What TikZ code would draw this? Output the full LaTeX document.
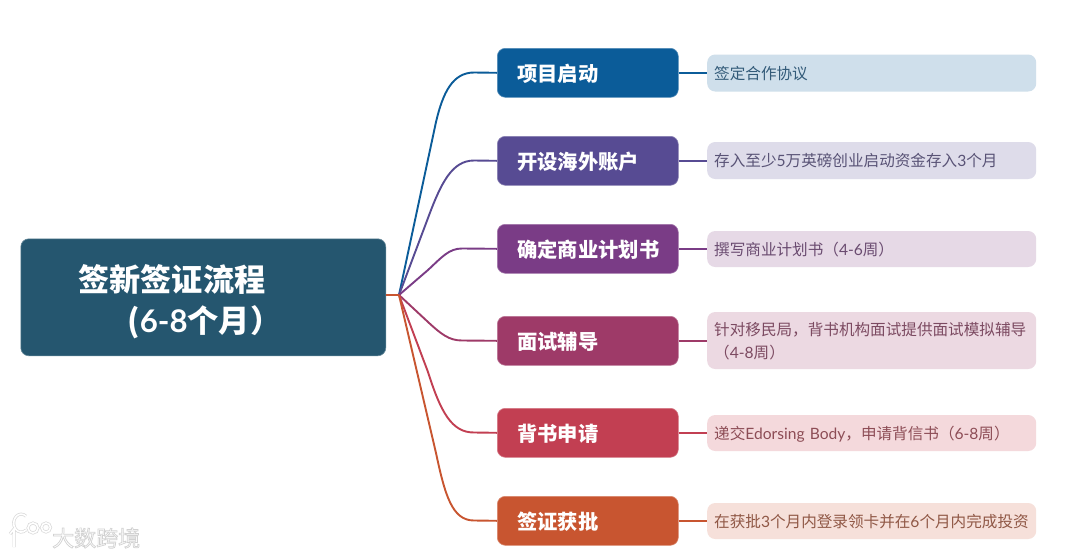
\documentclass[tikz,border=0pt]{standalone}
\usepackage{fontspec}
\setmainfont{Noto Sans CJK SC}
\newfontfamily\latinf{Lato}
\newcommand\dn[2]{\raisebox{-#1}[1em][.2em]{#2}}
\definecolor{croot}{HTML}{25566F}
\definecolor{ca}{HTML}{0B5C99}\definecolor{cb}{HTML}{574B93}\definecolor{cc}{HTML}{7A3C86}
\definecolor{cd}{HTML}{9E3A68}\definecolor{ce}{HTML}{C23F52}\definecolor{cf}{HTML}{C85530}
\definecolor{fa}{HTML}{CFDFEB}\definecolor{fb}{HTML}{DEDCEA}\definecolor{fc}{HTML}{E6D9E6}
\definecolor{fd}{HTML}{ECD9E2}\definecolor{fe}{HTML}{F4D9DC}\definecolor{ff}{HTML}{F6E0DA}
\tikzset{
  rootbox/.style={fill=croot,draw=croot!70!white,line width=.6pt,rounded corners=8pt,text=white,
    minimum height=117pt,text width=365pt,inner xsep=0pt,inner ysep=0pt,align=left,font=\fontsize{31.2}{41}\selectfont\bfseries},
  mainbox/.style={fill=#1,draw=#1!70!white,line width=.6pt,rounded corners=8pt,text=white,
    minimum height=49pt,text width=141pt,inner xsep=20pt,inner ysep=0pt,align=left,font=\fontsize{20.3}{24}\selectfont\bfseries},
  subbox/.style={fill=f#1,rounded corners=8pt,text=c#1!60!black!82!white,
    text width=315pt,inner xsep=7pt,inner ysep=0pt,align=left,font=\fontsize{15.6}{23}\selectfont},
  branch/.style={line width=1.9pt,color=#1,line join=round},
  wm/.style={font=\fontsize{22}{22}\selectfont,inner sep=0pt}
}
\begin{document}
\begin{tikzpicture}[x=1pt,y=-1pt]
\useasboundingbox (0,0) rectangle (1080,558);
\fill[white] (0,0) rectangle (1080,558);
\node[rootbox,anchor=north west] (root) at (20.5,238.5) {\hspace*{57.5pt}\dn{2pt}{签新签证流程}\\\hspace*{106.5pt}\dn{2pt}{({\latinf 6-8}个月）}};
\coordinate (hub) at (399,295);
\node[mainbox=ca,anchor=north west] (m1) at (497,48)  {\dn{1pt}{项目启动}};
\node[mainbox=cb,anchor=north west] (m2) at (497,136) {\dn{1pt}{开设海外账户}};
\node[mainbox=cc,anchor=north west] (m3) at (497,224) {\dn{1pt}{确定商业计划书}};
\node[mainbox=cd,anchor=north west] (m4) at (497,316) {\dn{1pt}{面试辅导}};
\node[mainbox=ce,anchor=north west] (m5) at (497,408) {\dn{1pt}{背书申请}};
\node[mainbox=cf,anchor=north west] (m6) at (497,496) {\dn{1pt}{签证获批}};
\node[subbox=a,minimum height=37pt,anchor=west] (s1) at (707,73)    {\dn{0pt}{签定合作协议}};
\node[subbox=b,minimum height=37pt,anchor=west] (s2) at (707,160.5) {\dn{0pt}{存入至少{\latinf 5}万英磅创业启动资金存入{\latinf 3}个月}};
\node[subbox=c,minimum height=36pt,anchor=west] (s3) at (707,249)   {\dn{0pt}{撰写商业计划书（{\latinf 4-6}周）}};
\node[subbox=d,minimum height=57pt,anchor=west] (s4) at (707,340.5) {\dn{0pt}{针对移民局，背书机构面试提供面试模拟辅导}\\\dn{0pt}{（{\latinf 4-8}周）}};
\node[subbox=e,minimum height=36pt,anchor=west] (s5) at (707,433)   {\dn{0pt}{递交{\latinf Edorsing Body}，申请背信书（{\latinf 6-8}周）}};
\node[subbox=f,minimum height=36pt,anchor=west] (s6) at (707,521)   {\dn{0pt}{在获批{\latinf 3}个月内登录领卡并在{\latinf 6}个月内完成投资}};
\draw[branch=ca] (hub) -- (436,122) .. controls (443,92) and (453,72.5) .. (474,72.5) -- (m1.west);
\draw[branch=cb] (hub) -- (428,218) .. controls (441,183) and (452,160.5) .. (474,160.5) -- (m2.west);
\draw[branch=cc] (hub) -- (428,270) .. controls (442,257) and (449,248.5) .. (462,248.5) -- (m3.west);
\draw[branch=cd] (hub) -- (428,322) .. controls (441,334) and (449,340.5) .. (462,340.5) -- (m4.west);
\draw[branch=ce] (hub) -- (428,372) .. controls (441,413) and (452,432.5) .. (474,432.5) -- (m5.west);
\draw[branch=cf] (hub) -- (436,453) .. controls (445,495) and (452,520.5) .. (474,520.5) -- (m6.west);
\draw[branch=cf] (root.east |- hub) -- (hub);
\draw[branch=ca] (m1.east) -- (m1.east -| s1.west);
\draw[branch=cb] (m2.east) -- (m2.east -| s2.west);
\draw[branch=cc] (m3.east) -- (m3.east -| s3.west);
\draw[branch=cd] (m4.east) -- (m4.east -| s4.west);
\draw[branch=ce] (m5.east) -- (m5.east -| s5.west);
\draw[branch=cf] (m6.east) -- (m6.east -| s6.west);
% watermark
\node[wm,text=white,anchor=west] (wmark) at (52,538) {\special{pdf:code 2 Tr 0.82 G 0.7 w}大数跨境\special{pdf:code 0 Tr 0 G 1 w}};
\draw[black!15,line width=3pt] (10,534) -- (14,529) -- (14,547) (26,530) arc (50:310:7.5 and 9) (33,528) circle (5) (46,527.5) circle (4.5);
\draw[white,line width=1.6pt] (10,534) -- (14,529) -- (14,547) (26,530) arc (50:310:7.5 and 9) (33,528) circle (5) (46,527.5) circle (4.5);
\end{tikzpicture}
\end{document}
